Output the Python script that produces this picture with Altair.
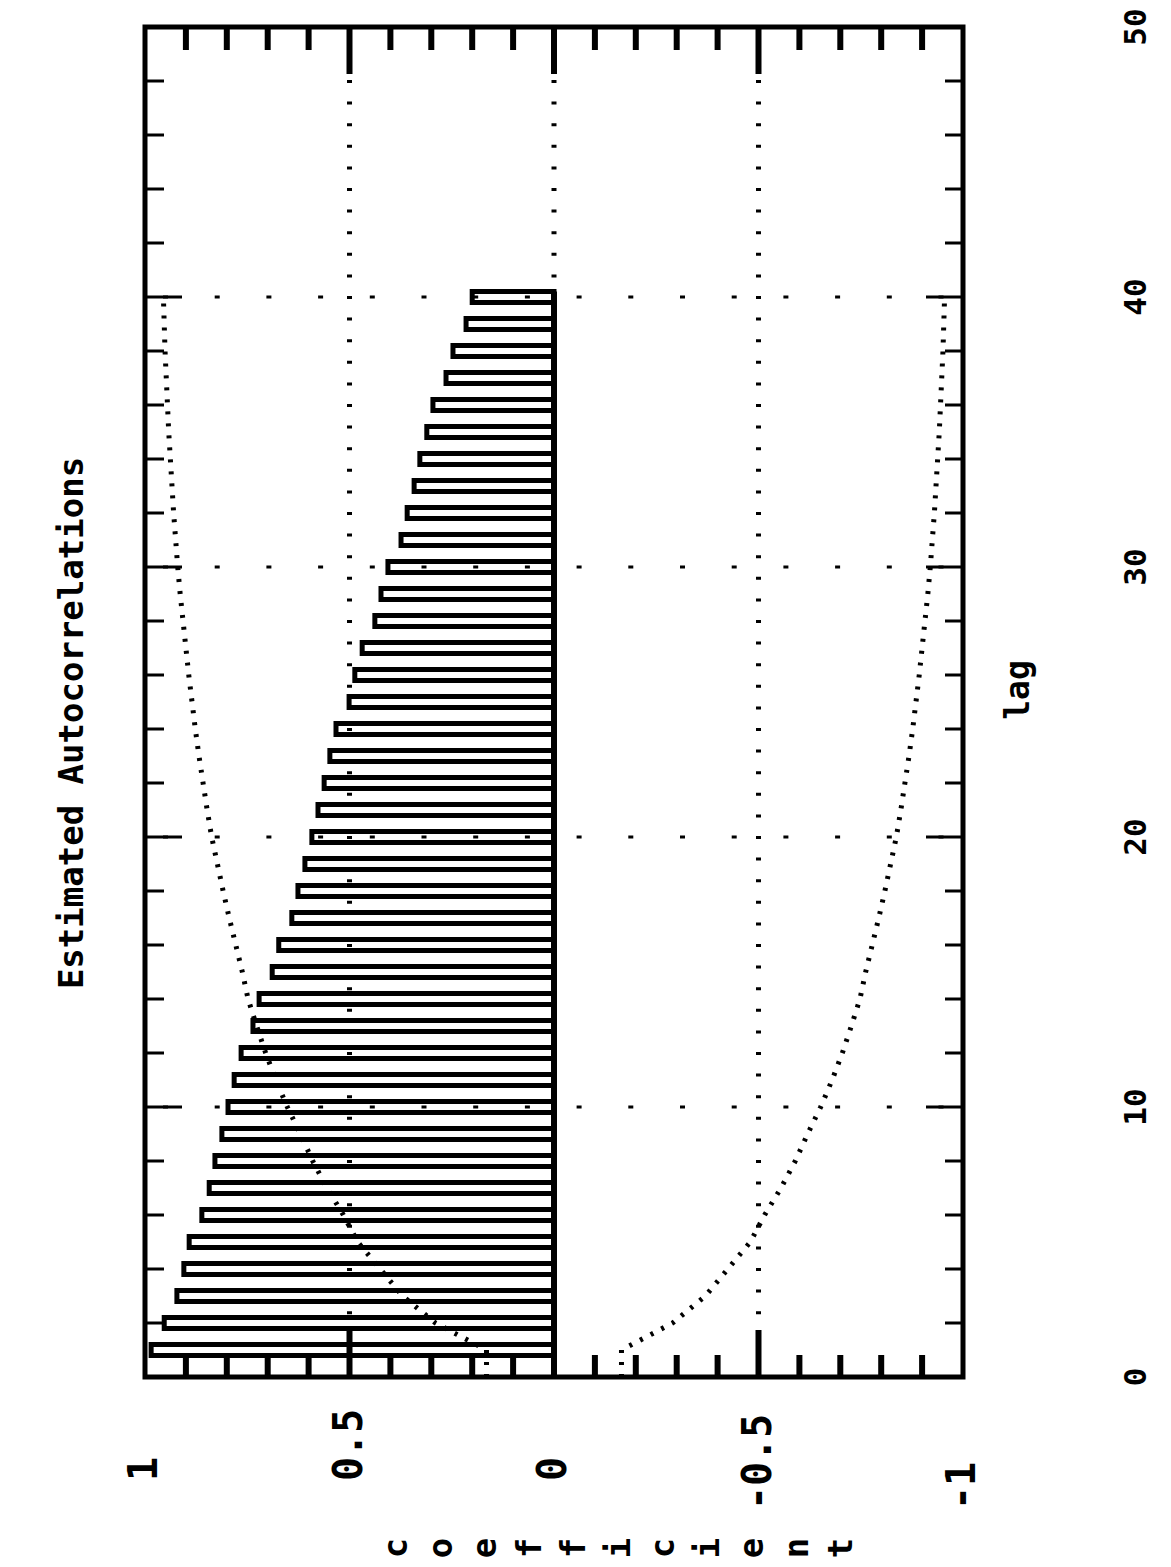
import altair as alt
import pandas as pd

# ---- data -------------------------------------------------------------
bar_lags = list(range(1, 41))
acf = [0.985, 0.953, 0.922, 0.905, 0.892, 0.861, 0.843, 0.829, 0.812,
       0.797, 0.782, 0.765, 0.736, 0.721, 0.689, 0.673, 0.641, 0.626, 0.609,
       0.592, 0.577, 0.562, 0.548, 0.533, 0.501, 0.487, 0.469, 0.438, 0.423,
       0.406, 0.374, 0.359, 0.342, 0.328, 0.311, 0.296, 0.264, 0.247, 0.215, 0.200]
# two-standard-error band around zero, lags 0..40
band_lags = list(range(0, 41))
bound = [0.165, 0.165, 0.29, 0.37, 0.425, 0.48, 0.515, 0.555, 0.59, 0.62,
         0.652, 0.68, 0.705, 0.727, 0.748, 0.762, 0.778, 0.794, 0.809, 0.823,
         0.837, 0.848, 0.858, 0.868, 0.877, 0.885, 0.893, 0.9, 0.907, 0.914,
         0.92, 0.925, 0.93, 0.934, 0.938, 0.942, 0.945, 0.948, 0.951, 0.953, 0.955]

lag_grid = [10, 20, 30, 40]
coef_grid = [0.5, 0.0, -0.5]
lag_ticks = list(range(2, 50, 2))
coef_ticks = [-0.9, -0.8, -0.7, -0.6, -0.5, -0.4, -0.3, -0.2, -0.1, 0.0,
              0.1, 0.2, 0.3, 0.4, 0.5, 0.6, 0.7, 0.8, 0.9]
coef_label_vals = [1, 0.5, 0, -0.5, -1]
coef_label_text = ["1", "0.5", "0", "-0.5", "-1"]
lag_label_vals = [0, 10, 20, 30, 40, 50]
lag_label_text = ["0", "10", "20", "30", "40", "50"]
title_text = "Estimated Autocorrelations"
x_title = "lag"
y_title = "coefficient"

# ---- layout -----------------------------------------------------------
W, H = 818, 1350
FONT = "DejaVu Sans Mono"

xs = alt.Scale(domain=[-1, 1], reverse=True, nice=False, zero=False)
ys = alt.Scale(domain=[0, 50], nice=False, zero=False)

bars_df = pd.DataFrame({"lag": bar_lags, "acf": acf})
band_df = pd.concat([
    pd.DataFrame({"lag": band_lags, "v": bound, "side": "upper"}),
    pd.DataFrame({"lag": band_lags, "v": [-b for b in bound], "side": "lower"}),
])


def X(f):
    return alt.X(f, scale=xs, axis=None)


def Y(f):
    return alt.Y(f, scale=ys, axis=None)


# dotted grid
vgrid = alt.Chart(pd.DataFrame({"c": coef_grid})).mark_rule(
    color="black", strokeWidth=5, strokeDash=[3, 18.6], strokeDashOffset=11.8
).encode(x=X("c:Q"), y=alt.value(0), y2=alt.value(H))

hgrid = alt.Chart(pd.DataFrame({"lag": lag_grid})).mark_rule(
    color="black", strokeWidth=3, strokeDash=[5, 46.7], strokeDashOffset=33.7
).encode(y=Y("lag:Q"), x=alt.value(0), x2=alt.value(W))

# confidence band drawn as dotted curves
band = alt.Chart(band_df).mark_line(
    color="black", strokeWidth=5, strokeDash=[3, 9]
).encode(x=X("v:Q"), y=Y("lag:Q"), detail="side:N", order=alt.Order("lag:Q"))

# hollow bars
bars = alt.Chart(bars_df).transform_calculate(
    base="0", lo="datum.lag - 0.2", hi="datum.lag + 0.2"
).mark_rect(
    fillOpacity=0, stroke="black", strokeWidth=5
).encode(x=X("acf:Q"), x2=alt.X2("base:Q"), y=Y("lo:Q"), y2=alt.Y2("hi:Q"))

# baseline joining the bars, from lag 0 up to the last bar
baseline = alt.Chart(bars_df).transform_aggregate(
    top="max(lag)"
).transform_calculate(
    z="0", b="0", t="datum.top + 0.2"
).mark_rule(color="black", strokeWidth=6).encode(
    x=X("z:Q"), y=Y("b:Q"), y2=alt.Y2("t:Q")
)

# inward ticks on the lag edges
lt = pd.DataFrame({"lag": lag_ticks})
lag_short = alt.Chart(lt).transform_filter("datum.lag % 10 != 0")
lag_long = alt.Chart(lt).transform_filter("datum.lag % 10 == 0")
tick_l_s = lag_short.mark_rule(color="black", strokeWidth=3).encode(
    y=Y("lag:Q"), x=alt.value(0), x2=alt.value(19))
tick_l_l = lag_long.mark_rule(color="black", strokeWidth=3).encode(
    y=Y("lag:Q"), x=alt.value(0), x2=alt.value(37))
tick_r_s = lag_short.mark_rule(color="black", strokeWidth=3).encode(
    y=Y("lag:Q"), x=alt.value(W - 18), x2=alt.value(W))
tick_r_l = lag_long.mark_rule(color="black", strokeWidth=3).encode(
    y=Y("lag:Q"), x=alt.value(W - 37), x2=alt.value(W))

# inward ticks on the coefficient edges
ct = pd.DataFrame({"c": coef_ticks})
c_short = alt.Chart(ct).transform_filter("abs(datum.c * 2 - round(datum.c * 2)) > 0.01")
c_long = alt.Chart(ct).transform_filter("abs(datum.c * 2 - round(datum.c * 2)) <= 0.01")
tick_t_s = c_short.mark_rule(color="black", strokeWidth=6).encode(
    x=X("c:Q"), y=alt.value(0), y2=alt.value(23))
tick_t_l = c_long.mark_rule(color="black", strokeWidth=6).encode(
    x=X("c:Q"), y=alt.value(0), y2=alt.value(47))
tick_b_s = c_short.mark_rule(color="black", strokeWidth=6).encode(
    x=X("c:Q"), y=alt.value(H - 22), y2=alt.value(H))
tick_b_l = c_long.mark_rule(color="black", strokeWidth=6).encode(
    x=X("c:Q"), y=alt.value(H - 47), y2=alt.value(H))

# tick labels, turned a quarter turn; a sign column is kept for negatives
cl = alt.Chart(pd.DataFrame({"c": coef_label_vals, "t": coef_label_text}))
label_style = dict(angle=270, align="left", baseline="middle", font=FONT,
                   fontSize=40, fontWeight="bold")
coef_pos = cl.transform_filter("datum.c >= 0").mark_text(**label_style).encode(
    x=X("c:Q"), y=alt.value(H + 104), text="t:N")
coef_neg = cl.transform_filter("datum.c < 0").mark_text(**label_style).encode(
    x=X("c:Q"), y=alt.value(H + 133), text="t:N")

lag_labels = alt.Chart(pd.DataFrame({"lag": lag_label_vals, "t": lag_label_text})).mark_text(
    angle=270, align="center", baseline="middle", font=FONT, fontSize=31, fontWeight="bold"
).encode(y=Y("lag:Q"), x=alt.value(W + 174), text="t:N")

lag_title = alt.Chart(pd.DataFrame({"t": [x_title]})).mark_text(
    angle=270, align="center", baseline="middle", font=FONT, fontSize=33, fontWeight="bold"
).encode(x=alt.value(W + 56), y=alt.value(663), text="t:N")

main_title = alt.Chart(pd.DataFrame({"t": [title_text]})).mark_text(
    angle=270, align="center", baseline="middle", font=FONT, fontSize=34, fontWeight="bold"
).encode(x=alt.value(-72), y=alt.value(696), text="t:N")

main = alt.layer(
    vgrid, hgrid, band, bars, baseline,
    tick_l_s, tick_l_l, tick_r_s, tick_r_l,
    tick_t_s, tick_t_l, tick_b_s, tick_b_l,
    coef_pos, coef_neg, lag_labels, lag_title, main_title,
)

# stacked letters of the coefficient label
letters_df = pd.DataFrame({"ch": list(y_title), "i": list(range(len(y_title)))})
letters = alt.Chart(letters_df).transform_calculate(
    px="252 + datum.i * 44.5"
).mark_text(
    angle=270, align="center", baseline="middle", font=FONT, fontSize=34, fontWeight="bold"
).encode(x=alt.X("px:Q", scale=None, axis=None), y=alt.value(H + 171), text="ch:N")

chart = alt.layer(main, letters).resolve_scale(x="independent").properties(
    width=W, height=H,
    autosize=alt.AutoSizeParams(type="none"),
    padding={"left": 145, "top": 27, "right": 208, "bottom": 190},
    background="white",
).configure_view(stroke="black", strokeWidth=5)

chart.save("out.html", embed_options={"renderer": "svg", "actions": False})
